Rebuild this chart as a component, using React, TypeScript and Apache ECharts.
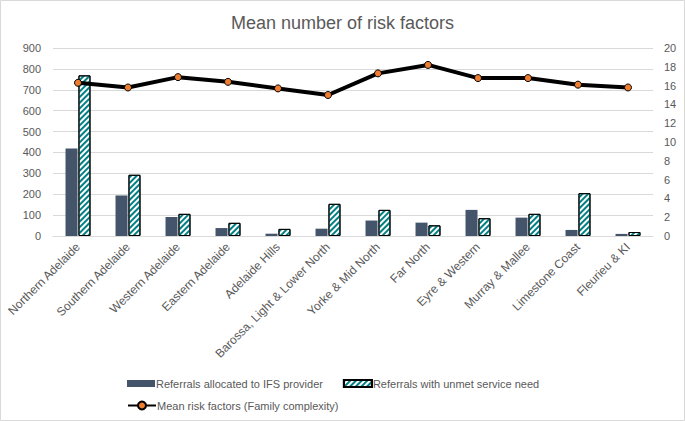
import React, { useEffect, useRef } from "react";
import * as echarts from "echarts";

const categories = [
  "Northern Adelaide",
  "Southern Adelaide",
  "Western Adelaide",
  "Eastern Adelaide",
  "Adelaide Hills",
  "Barossa, Light & Lower North",
  "Yorke & Mid North",
  "Far North",
  "Eyre & Western",
  "Murray & Mallee",
  "Limestone Coast",
  "Fleurieu & KI",
];
const allocated = [419, 194, 91, 38, 11, 35, 74, 64, 125, 88, 29, 10];
const unmet = [769, 293, 106, 63, 34, 154, 125, 51, 85, 106, 205, 19];
const meanRisk = [16.3, 15.8, 16.9, 16.4, 15.7, 15.0, 17.3, 18.2, 16.8, 16.8, 16.1, 15.8];

const leftTicks = { min: 0, max: 900, interval: 100 };
const rightTicks = { min: 0, max: 20, interval: 2 };

const FONT = "'Liberation Sans', Arial, sans-serif";
const GREY = "#595959";

export default function App() {
  const ref = useRef<HTMLDivElement>(null);
  useEffect(() => {
    if (!ref.current) return;
    const chart = echarts.init(ref.current, undefined, { renderer: "svg" });
    chart.setOption({
      animation: false,
      backgroundColor: "#ffffff",
      textStyle: { fontFamily: FONT },
      title: {
        text: "Mean number of risk factors",
        left: "center",
        top: 9,
        textStyle: { fontFamily: FONT, fontSize: 18, fontWeight: "normal", color: GREY },
      },
      graphic: [
        {
          type: "rect",
          shape: { x: 0.5, y: 0.5, width: 684, height: 420 },
          style: { fill: "none", stroke: "#d9d9d9", lineWidth: 1 },
          silent: true,
        },
      ],
      legend: [
        {
          left: 122,
          top: 373,
          itemWidth: 28,
          itemHeight: 7,
          itemGap: 20,
          icon: "rect",
          textStyle: { fontFamily: FONT, fontSize: 11, color: GREY, padding: [0, 0, 0, -4] },
          data: ["Referrals allocated to IFS provider", "Referrals with unmet service need"],
        },
        {
          left: 122,
          top: 395,
          itemWidth: 28,
          itemHeight: 10,
          textStyle: { fontFamily: FONT, fontSize: 11, color: GREY, padding: [0, 0, 0, -4] },
          data: ["Mean risk factors (Family complexity)"],
        },
      ],
      grid: { left: 53, right: 32, top: 48, bottom: 185, containLabel: false },
      xAxis: {
        type: "category",
        data: categories,
        axisLine: { lineStyle: { color: "#d9d9d9" } },
        axisTick: { show: false },
        axisLabel: {
          interval: 0,
          rotate: 45,
          fontFamily: FONT,
          fontSize: 12,
          color: GREY,
          margin: 9,
        },
      },
      yAxis: [
        {
          type: "value",
          ...leftTicks,
          axisLine: { show: false },
          axisTick: { show: false },
          axisLabel: { fontFamily: FONT, fontSize: 11, color: GREY, margin: 12 },
          splitLine: { lineStyle: { color: "#d9d9d9" } },
        },
        {
          type: "value",
          ...rightTicks,
          axisLine: { show: false },
          axisTick: { show: false },
          axisLabel: { fontFamily: FONT, fontSize: 11, color: GREY, margin: 11 },
          splitLine: { show: false },
        },
      ],
      series: [
        {
          name: "Referrals allocated to IFS provider",
          type: "bar",
          data: allocated,
          barWidth: 12,
          barGap: "8%",
          itemStyle: { color: "#44546a" },
        },
        {
          name: "Referrals with unmet service need",
          type: "bar",
          data: unmet,
          barWidth: 12,
          itemStyle: {
            color: "#ffffff",
            borderColor: "#000000",
            borderWidth: 1,
            decal: {
              symbol: "rect",
              color: "#007f84",
              dashArrayX: [1, 0],
              dashArrayY: [2, 2],
              rotation: -Math.PI / 4,
            },
          },
        },
        {
          name: "Mean risk factors (Family complexity)",
          type: "line",
          yAxisIndex: 1,
          data: meanRisk,
          symbol: "circle",
          symbolSize: 7,
          lineStyle: { color: "#000000", width: 4 },
          itemStyle: { color: "#ed7d31", borderColor: "#000000", borderWidth: 1 },
          z: 5,
        },
      ],
    });
    return () => chart.dispose();
  }, []);
  return (
    <div
      ref={ref}
      style={{ position: "fixed", left: 0, top: 0, width: 685, height: 421 }}
    />
  );
}
